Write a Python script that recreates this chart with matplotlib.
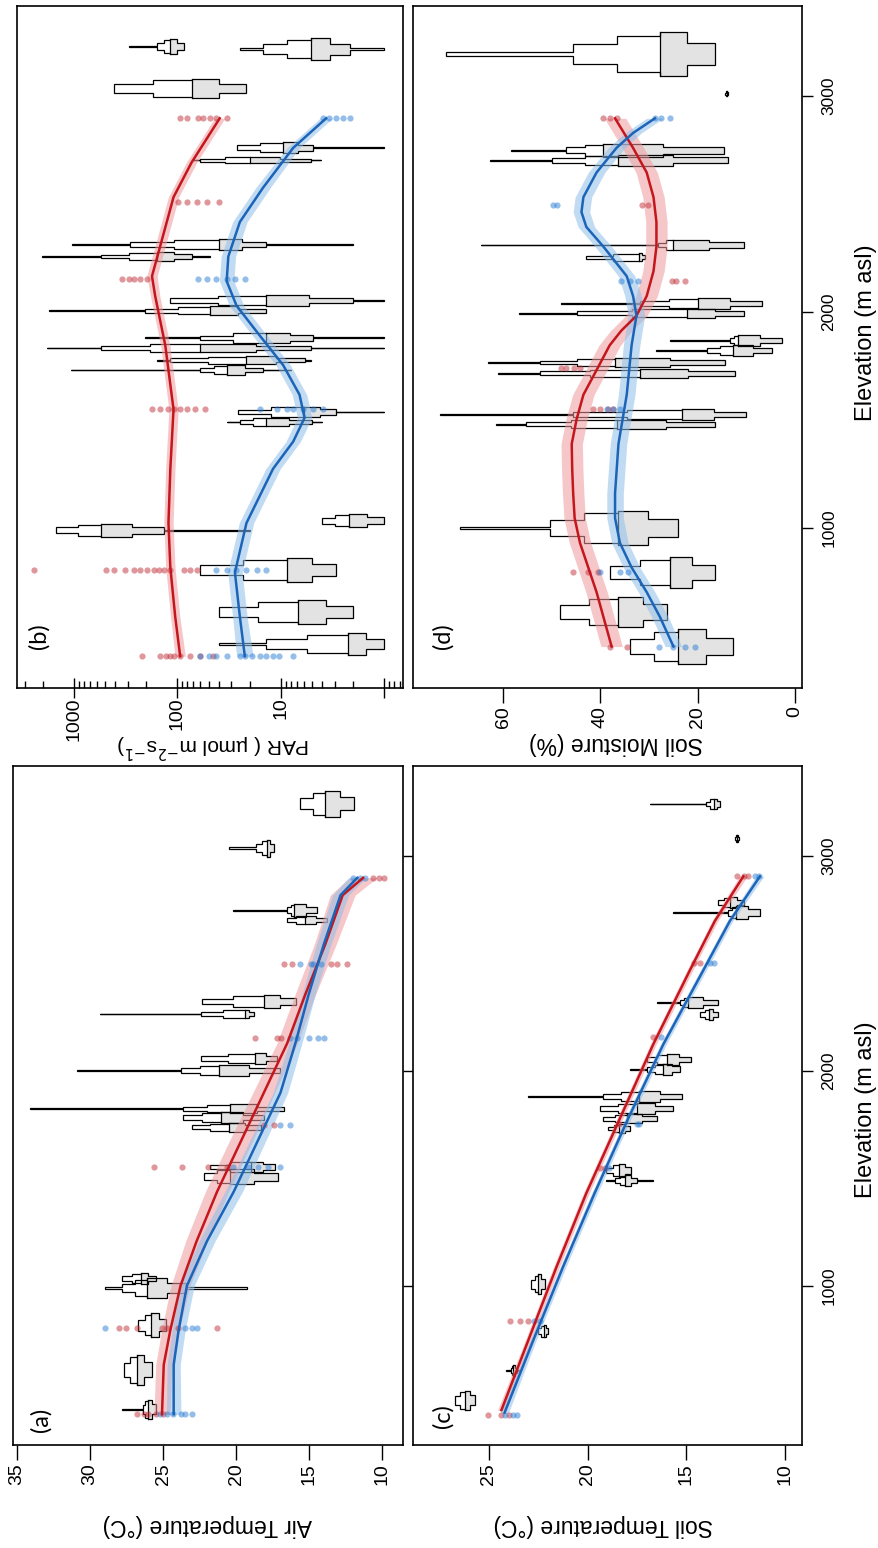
import numpy as np
import matplotlib
matplotlib.use('Agg')
import matplotlib.pyplot as plt
from matplotlib.ticker import FixedLocator, NullFormatter, FixedFormatter

plt.rcParams['font.family'] = ['Liberation Sans', 'DejaVu Sans']

W, H = 879, 1548

# ------------------------------------------------------------------ data
ELEV_LIM = (259, 3417)
elev_ticks = [1000, 2000, 3000]
elev_ticklabels = ['1000', '2000', '3000']

# (a) Air temperature
a_red_elev = [402, 632, 793, 1000, 1207, 1437, 1667, 1897, 2127, 2356, 2586, 2816, 2897]
a_red_val = [25.07, 24.95, 24.5, 23.8, 22.7, 21.3, 19.7, 18.1, 16.5, 15.25, 13.9, 12.7, 11.3]
a_red_band = [0.55, 0.55, 0.6, 0.65, 0.75, 0.8, 0.8, 0.75, 0.7, 0.7, 0.75, 0.85, 0.95]
a_blue_elev = [402, 632, 793, 1000, 1207, 1437, 1667, 1897, 2127, 2356, 2586, 2816, 2897]
a_blue_val = [24.27, 24.27, 23.93, 23.36, 21.99, 20.16, 18.56, 16.96, 15.94, 15.02, 14.0, 12.85, 11.7]
a_blue_band = [0.5, 0.45, 0.45, 0.5, 0.55, 0.6, 0.55, 0.5, 0.45, 0.45, 0.5, 0.55, 0.6]
a_dot_elev = [402, 805, 1552, 1747, 2150, 2494, 2897]
a_red_dots = [[26.8, 26.3, 26.0, 25.5, 25.0], [28.0, 27.5, 26.8, 25.1, 24.7, 24.0, 21.3],
              [25.6, 23.7, 21.9, 20.6], [18.1, 17.4], [18.7, 17.2, 16.9],
              [16.7, 16.2, 13.5, 13.1, 12.4], [10.6, 10.2, 9.9]]
a_blue_dots = [[25.2, 24.7, 24.3, 23.8, 23.5, 23.0], [29.0, 23.5, 23.0, 22.7],
               [20.2, 19.2, 18.5, 17.8, 17.0], [17.0, 16.3], [16.3, 15.8, 15.0, 14.4, 14.0],
               [15.6, 14.9, 14.7, 14.2], [12.0, 11.5, 11.2]]
# violins: (elevation, end A, body A, median, body B, end B, half thickness in m)
a_violins = [(425, 27.8, 26.4, 26.0, 25.5, 25.5, 45), (609, 27.7, 27.7, 26.8, 25.75, 25.75, 70),
             (816, 26.7, 26.7, 25.8, 24.8, 24.8, 55), (989, 29.0, 27.8, 26.1, 23.4, 19.25, 45),
             (1034, 27.8, 27.8, 26.5, 25.5, 25.5, 25), (1506, 22.2, 22.2, 20.4, 17.1, 17.1, 35),
             (1552, 21.8, 21.8, 19.0, 17.3, 17.3, 25), (1823, 34.1, 23.6, 20.4, 16.7, 16.7, 20),
             (1782, 23.6, 23.6, 21.0, 18.1, 18.1, 25), (1736, 23.0, 23.0, 20.5, 18.3, 18.3, 20),
             (2000, 30.9, 23.8, 21.2, 17.0, 17.0, 25), (2057, 22.4, 22.4, 18.7, 17.2, 17.2, 25),
             (2264, 29.3, 22.4, 19.4, 18.8, 18.8, 20), (2322, 22.3, 22.3, 18.1, 15.9, 15.9, 30),
             (2747, 20.2, 16.5, 16.0, 14.45, 14.45, 30), (2701, 16.5, 16.5, 15.3, 13.8, 13.8, 20),
             (3035, 20.5, 18.6, 17.9, 17.4, 17.4, 40), (3242, 15.6, 15.6, 13.9, 11.9, 11.9, 60)]

# (b) PAR
b_red_elev = [406, 589, 817, 1023, 1274, 1549, 1846, 2074, 2166, 2303, 2532, 2692, 2897]
b_red_val = [94, 105, 117, 122, 117, 109, 131, 164, 176, 147, 109, 73, 39]
b_red_band = [0.05, 0.045, 0.045, 0.045, 0.045, 0.045, 0.045, 0.045, 0.05, 0.05, 0.05, 0.05, 0.05]
b_blue_elev = [406, 589, 794, 1023, 1274, 1400, 1510, 1617, 1754, 1891, 2029, 2143, 2257, 2417, 2577, 2760, 2897]
b_blue_val = [22.3, 24.9, 27.8, 21.5, 11.9, 7.6, 5.9, 6.6, 9.5, 16, 26.8, 33.4, 32.2, 24.9, 14.8, 7.6, 3.65]
b_blue_band = [0.08, 0.07, 0.07, 0.07, 0.07, 0.07, 0.07, 0.07, 0.07, 0.07, 0.07, 0.07, 0.07, 0.07, 0.07, 0.06, 0.06]
b_dot_elev = [406, 806, 1549, 2154, 2509, 2897]
b_red_dots = [[220, 147, 130, 118, 109, 94, 75, 60, 45],
              [2430, 495, 412, 318, 263, 230, 195, 170, 150, 135, 117, 87, 75, 65],
              [176, 147, 122, 109, 94, 81, 68, 54], [343, 296, 264, 228, 197],
              [98, 81, 65, 52, 40], [94, 81, 63, 56, 48, 42, 33]]
b_blue_dots = [[60, 50, 42, 33, 25, 22, 19, 16, 14, 12, 10.5, 7.6], [42, 33, 27, 21.5, 17, 13.8],
               [16, 11, 8.8, 7.6, 6.1, 4.9, 3.9], [63, 52, 42, 33, 27.8, 22.3], [],
               [3.9, 3.4, 2.9, 2.5, 2.17]]
b_violins = [(3229, 296, 158, 117, 87, 87, 35), (3217, 25, 14.8, 5.1, 2.17, 1.0, 50),
             (3035, 412, 412, 73, 21.5, 21.5, 45), (2760, 26.8, 26.8, 9.5, 4.9, 1.0, 25),
             (2703, 73, 60, 20, 5.1, 4.07, 15), (2314, 1038, 285, 40, 13.8, 2.02, 25),
             (2257, 2018, 553, 158, 73, 48, 20), (2052, 117, 117, 14, 2.0, 1.0, 25),
             (2006, 1742, 204, 48, 13.8, 13.8, 20), (1880, 204, 60, 13.8, 4.9, 1.0, 25),
             (1834, 1807, 553, 60, 5.1, 1.0, 20), (1777, 158, 117, 21.5, 5.9, 5.1, 20),
             (1731, 1077, 60, 33, 14.8, 7.9, 22), (1537, 25.8, 25.8, 6.0, 2.9, 1.0, 25),
             (1491, 33, 25, 14, 5, 4, 20), (1034, 4.0, 4.0, 2.2, 1.0, 1.0, 30),
             (989, 1501, 1501, 553, 136, 19.9, 30), (806, 60, 60, 8.8, 2.9, 2.9, 55),
             (611, 40, 40, 6.8, 2.0, 2.0, 55), (463, 40, 13.8, 2.25, 1.0, 1.0, 50)]

# (c) Soil temperature
c_red_elev = [421, 743, 1087, 1432, 1777, 2122, 2467, 2697, 2904]
c_red_val = [24.37, 23.02, 21.58, 20.06, 18.37, 16.68, 14.82, 13.55, 12.11]
c_red_band = [0.2, 0.15, 0.15, 0.15, 0.15, 0.15, 0.15, 0.15, 0.2]
c_blue_elev = [409, 743, 1087, 1432, 1777, 2122, 2467, 2697, 2904]
c_blue_val = [24.21, 22.77, 21.25, 19.64, 17.95, 16.17, 14.14, 12.79, 11.27]
c_blue_band = [0.2, 0.15, 0.15, 0.15, 0.15, 0.15, 0.15, 0.15, 0.2]
c_dot_elev = [398, 838, 1547, 1754, 2157, 2500, 2904]
c_red_dots = [[25.05, 24.4, 24.0], [23.95, 23.45, 23.0], [19.4, 19.1], [18.4], [16.7],
              [14.6, 14.3], [12.45, 12.1, 11.9]]
c_blue_dots = [[24.2, 23.8, 23.6], [22.7, 22.4], [18.9], [17.5, 17.4], [16.3],
               [13.8, 13.6], [11.5, 11.3]]
c_violins = [(467, 26.74, 26.74, 26.23, 25.73, 25.73, 45), (605, 24.12, 23.9, 23.8, 23.6, 23.44, 25),
             (789, 22.5, 22.5, 22.2, 22.0, 22.0, 30), (1007, 22.85, 22.85, 22.5, 22.18, 22.18, 45),
             (1536, 19.05, 19.05, 18.4, 17.78, 17.78, 30), (1490, 19.05, 18.6, 18.1, 17.5, 16.68, 25),
             (1881, 23.0, 19.2, 17.4, 15.24, 15.24, 25), (1823, 19.4, 19.4, 17.5, 15.67, 15.67, 25),
             (1777, 19.2, 19.2, 18.0, 16.5, 16.5, 20), (1731, 18.96, 18.96, 18.4, 17.86, 17.86, 20),
             (2053, 17.0, 17.0, 16.0, 14.74, 14.74, 25), (2007, 17.86, 17.0, 16.2, 15.3, 15.3, 25),
             (2317, 16.5, 15.3, 14.9, 13.4, 13.4, 25), (2260, 14.3, 14.3, 13.85, 13.4, 13.4, 25),
             (2781, 13.4, 13.4, 12.8, 12.1, 12.1, 25), (2735, 15.67, 12.9, 12.5, 11.27, 11.27, 30),
             (3080, 12.55, 12.55, 12.45, 12.35, 12.35, 18), (3240, 16.85, 14.0, 13.6, 13.3, 13.3, 25)]

# (d) Soil moisture
d_red_elev = [451, 589, 703, 817, 931, 1046, 1160, 1274, 1389, 1503, 1617, 1731, 1846, 1914,
              1983, 2074, 2189, 2303, 2417, 2532, 2646, 2760, 2897]
d_red_val = [37.7, 39.4, 40.8, 42.5, 44.2, 45.3, 45.6, 45.8, 45.9, 44.9, 43.5, 40.8, 38.1, 35.7,
             32.6, 30.5, 29.1, 28.5, 28.5, 29.1, 30.5, 33.3, 37.0]
d_red_band = [2.2] * 23
d_blue_elev = [451, 589, 703, 817, 931, 1046, 1160, 1389, 1617, 1846, 1983, 2074, 2166, 2303,
               2394, 2463, 2532, 2646, 2760, 2829, 2897]
d_blue_val = [25.0, 27.8, 30.5, 33.6, 36.0, 37.0, 37.0, 36.3, 34.6, 33.6, 32.6, 33.3, 34.6, 39.4,
              42.9, 43.9, 43.5, 40.8, 36.7, 33.3, 28.8]
d_blue_band = [1.7] * 21
d_dot_elev = [451, 794, 1549, 1743, 2143, 2497, 2897]
d_red_dots = [[38, 34.6], [45.6, 42.5, 40.5], [41.5, 40, 38.5, 37.4], [48, 47, 45.5, 44.2],
              [25.4, 24.5, 22.6], [31.5, 30.2], [39.4, 38, 36.7]]
d_blue_dots = [[28, 25, 22.6, 20.5], [40, 36, 34.3], [38.7, 37.5, 36], [],
               [35.7, 34, 32.2], [49.7, 49], [28.8, 27.5, 25.7]]
d_violins = [(3195, 71.7, 45.6, 27.8, 16.5, 16.5, 100), (3011, 14.4, 14.4, 14.1, 13.8, 13.8, 12),
             (2749, 58.3, 47.0, 39.4, 14.7, 14.7, 30), (2703, 62.7, 50.0, 36.3, 13.7, 13.7, 25),
             (2310, 64.5, 28.1, 25.0, 10.6, 10.6, 25), (2253, 42.9, 42.9, 32.0, 30.9, 30.9, 18),
             (2040, 48.0, 31.9, 19.9, 6.9, 6.9, 25), (1994, 56.7, 44.9, 22.3, 10.6, 10.6, 22),
             (1869, 25.7, 13.4, 11.7, 2.7, 2.7, 25), (1823, 28.5, 18.2, 12.7, 4.8, 4.8, 25),
             (1766, 63.1, 52.5, 37.0, 14.4, 14.4, 20), (1716, 61.0, 52.5, 31.9, 12.3, 12.3, 20),
             (1526, 73.0, 45.6, 23.3, 10.0, 10.0, 25), (1480, 61.4, 55.2, 36.7, 16.5, 16.5, 22),
             (1000, 68.9, 50.4, 36.3, 24.0, 24.0, 80), (794, 38.0, 38.0, 25.7, 16.5, 16.5, 70),
             (611, 48.3, 48.3, 36.3, 26.4, 26.4, 70), (451, 33.9, 33.9, 24.0, 12.7, 12.7, 80)]

# ------------------------------------------------------------------ style
RED_LINE, RED_BAND, RED_DOT = '#c4161c', '#f09a9e', '#c0303a'
BLUE_LINE, BLUE_BAND, BLUE_DOT = '#1c64b8', '#8fbfea', '#2a7fd4'
GREY = '#e3e3e3'


def rect(x0, y0, x1, y1):
    return [x0 / W, 1 - y1 / H, (x1 - x0) / W, (y1 - y0) / H]


def draw_violins(ax, specs, log=False):
    f = np.log10 if log else (lambda v: float(v))
    for (el, a, b, m, c, d, hw) in specs:
        e0, e3 = sorted([f(a), f(d)])
        b0, b1 = sorted([f(b), f(c)])
        um = f(m)
        edges = [e0, b0, (b0 + um) / 2, um, (um + b1) / 2, b1, e3]
        rel = [0.08, 0.5, 1.0, 0.85, 0.45, 0.08]
        xt, yt = [], []
        for i in range(6):
            xt += [edges[i], edges[i + 1]]
            yt += [el + rel[i] * hw] * 2
        xs = np.array(xt + xt[::-1])
        ys = np.array(yt + [2 * el - y for y in yt[::-1]])
        gx = np.array(xt[2:6] + xt[2:6][::-1])
        gy = np.array(yt[2:6] + [2 * el - y for y in yt[2:6][::-1]])
        if log:
            xs, gx = 10 ** xs, 10 ** gx
        ax.fill(xs, ys, facecolor='white', edgecolor='none', zorder=2)
        ax.fill(gx, gy, facecolor=GREY, edgecolor='none', zorder=2)
        ax.fill(xs, ys, facecolor='none', edgecolor='black', lw=0.9, zorder=2.2)
        ax.plot([m, m], [el - hw, el + hw], color='black', lw=0.9, zorder=2.3)


def draw_curve(ax, elev, val, band, lc, bc, log=False):
    elev, val, band = map(np.asarray, (elev, val, band))
    if log:
        lo, hi = val / 10 ** band, val * 10 ** band
    else:
        lo, hi = val - band, val + band
    ax.fill_betweenx(elev, lo, hi, color=bc, alpha=0.55, lw=0, zorder=3)
    ax.plot(val, elev, color=lc, lw=1.8, zorder=5, solid_joinstyle='round')


def draw_dots(ax, elevs, rows, color):
    for el, row in zip(elevs, rows):
        if row:
            ax.scatter(row, [el] * len(row), s=20, color=color, alpha=0.5, lw=0, zorder=4)


fig = plt.figure(figsize=(W / 100, H / 100), dpi=100)

axb = fig.add_axes(rect(17, 6, 403, 688))
axd = fig.add_axes(rect(413, 6, 802, 688))
axa = fig.add_axes(rect(13, 766, 403, 1445))
axc = fig.add_axes(rect(413, 766, 802, 1445))

draw_violins(axa, a_violins)
draw_curve(axa, a_red_elev, a_red_val, a_red_band, RED_LINE, RED_BAND)
draw_curve(axa, a_blue_elev, a_blue_val, a_blue_band, BLUE_LINE, BLUE_BAND)
draw_dots(axa, a_dot_elev, a_red_dots, RED_DOT)
draw_dots(axa, a_dot_elev, a_blue_dots, BLUE_DOT)

axb.set_xscale('log')
draw_violins(axb, b_violins, log=True)
draw_curve(axb, b_red_elev, b_red_val, b_red_band, RED_LINE, RED_BAND, log=True)
draw_curve(axb, b_blue_elev, b_blue_val, b_blue_band, BLUE_LINE, BLUE_BAND, log=True)
draw_dots(axb, b_dot_elev, b_red_dots, RED_DOT)
draw_dots(axb, b_dot_elev, b_blue_dots, BLUE_DOT)

draw_violins(axc, c_violins)
draw_curve(axc, c_red_elev, c_red_val, c_red_band, RED_LINE, RED_BAND)
draw_curve(axc, c_blue_elev, c_blue_val, c_blue_band, BLUE_LINE, BLUE_BAND)
draw_dots(axc, c_dot_elev, c_red_dots, RED_DOT)
draw_dots(axc, c_dot_elev, c_blue_dots, BLUE_DOT)

draw_violins(axd, d_violins)
draw_curve(axd, d_red_elev, d_red_val, d_red_band, RED_LINE, RED_BAND)
draw_curve(axd, d_blue_elev, d_blue_val, d_blue_band, BLUE_LINE, BLUE_BAND)
draw_dots(axd, d_dot_elev, d_red_dots, RED_DOT)
draw_dots(axd, d_dot_elev, d_blue_dots, BLUE_DOT)

axa.set_xlim(35.27, 8.57)
axb.set_xlim(3550, 0.66)
axc.set_xlim(28.85, 9.14)
axd.set_xlim(78.5, -1.4)

val_ticks = {axa: ([10, 15, 20, 25, 30, 35], ['10', '15', '20', '25', '30', '35']),
             axc: ([10, 15, 20, 25], ['10', '15', '20', '25']),
             axd: ([0, 20, 40, 60], ['0', '20', '40', '60']),
             axb: ([1, 10, 100, 1000], ['', '10', '100', '1000'])}

for ax in (axa, axb, axc, axd):
    ax.set_ylim(*ELEV_LIM)
    for s in ax.spines.values():
        s.set_linewidth(1.2)
    t, l = val_ticks[ax]
    ax.xaxis.set_major_locator(FixedLocator(t))
    ax.xaxis.set_major_formatter(FixedFormatter(l))
    ax.tick_params(axis='x', which='major', direction='out', length=11, width=1.0,
                   labelsize=14, labelrotation=90, pad=2)
    ax.yaxis.tick_right()
    ax.yaxis.set_major_locator(FixedLocator(elev_ticks))
    ax.tick_params(axis='y', which='major', direction='out', length=8, width=1.0,
                   labelsize=12.5, labelrotation=90, pad=6)

minor_par = [v * 10 ** e for e in range(-1, 4) for v in range(2, 10)]
axb.xaxis.set_minor_locator(FixedLocator(minor_par))
axb.xaxis.set_minor_formatter(NullFormatter())
axb.tick_params(axis='x', which='major', direction='inout', length=14, pad=0)
axb.tick_params(axis='x', which='minor', direction='in', length=5, width=1.0)

for ax in (axa, axb):
    ax.yaxis.set_major_formatter(NullFormatter())
for ax in (axc, axd):
    ax.yaxis.set_major_formatter(FixedFormatter(elev_ticklabels))
    for lbl in ax.get_yticklabels():
        lbl.set_va('center')
axb.tick_params(axis='y', length=0)

# axis titles (rotated as in the reference)
fig.text(213 / W, 1 - 746 / H, 'PAR ( µmol m$^{-2}$s$^{-1}$)', rotation=180,
         ha='center', va='center', fontsize=15)
fig.text(616 / W, 1 - 743 / H, 'Soil Moisture (%)', rotation=180,
         ha='center', va='center', fontsize=16.5)
fig.text(207 / W, 1 - 1526 / H, 'Air Temperature (°C)', rotation=180,
         ha='center', va='center', fontsize=16.5)
fig.text(603 / W, 1 - 1526 / H, 'Soil Temperature (°C)', rotation=180,
         ha='center', va='center', fontsize=16.5)

for yc in (333, 1110):
    fig.text(866 / W, 1 - yc / H, 'Elevation (m asl)', rotation=90, ha='center', va='center',
             fontsize=17)

for (x, y, s) in ((39, 636, '(b)'), (443, 636, '(d)'), (41, 1420, '(a)'), (443, 1416, '(c)')):
    fig.text(x / W, 1 - y / H, s, rotation=90, ha='center', va='center', fontsize=17,
             family=['Lato', 'DejaVu Sans'])

fig.savefig('out.png', dpi=100, facecolor='white')
